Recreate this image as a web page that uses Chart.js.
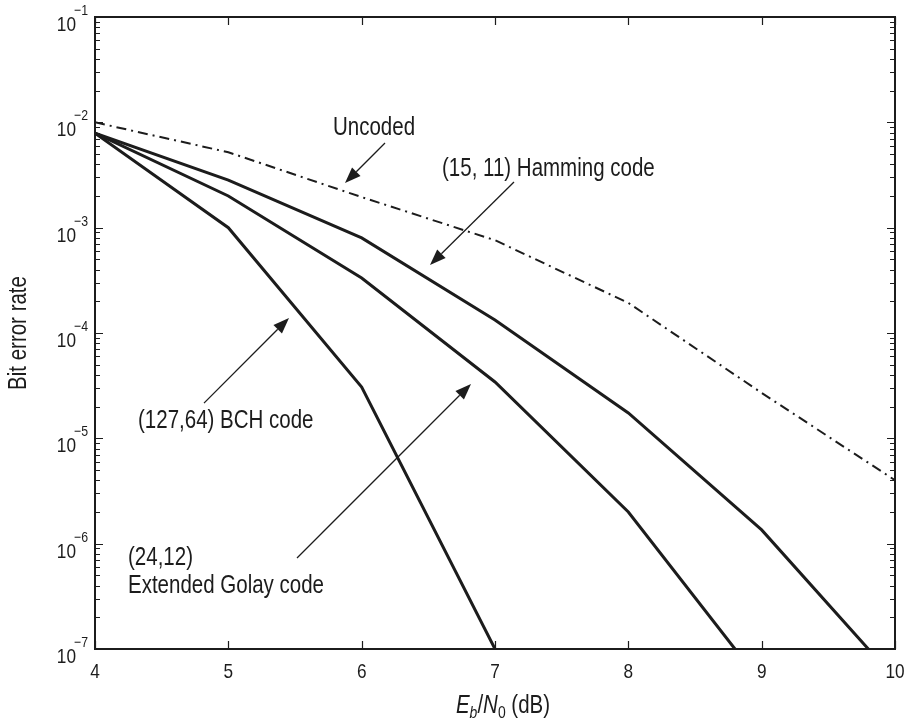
<!DOCTYPE html>
<html>
<head>
<meta charset="utf-8">
<script src="https://cdn.jsdelivr.net/npm/chart.js@4/dist/chart.umd.min.js"></script>
<style>
  body { margin: 0; background: #fff; }
  #wrap { width: 913px; height: 720px; }
</style>
</head>
<body>
<div id="wrap"><canvas id="berChart"></canvas></div>
<script>
// Eb/N0 (dB) values and bit error rates
const uncodedX = [4, 5, 6, 7, 8, 9, 10];
const uncoded = [1.0e-2, 5.2e-3, 1.95e-3, 7.6e-4, 1.93e-4, 2.7e-5, 4.0e-6];

const hammingX = [4, 5, 6, 7, 8, 9, 9.8];
const hamming = [7.9e-3, 2.83e-3, 8.0e-4, 1.33e-4, 1.74e-5, 1.35e-6, 1e-7];

const golayX = [4, 5, 6, 7, 8, 8.8];
const golay = [7.9e-3, 2.0e-3, 3.33e-4, 3.43e-5, 2.0e-6, 1e-7];

const bchX = [4, 5, 6, 7];
const bch = [7.9e-3, 1.0e-3, 3.07e-5, 1e-7];

const xTicks = [4, 5, 6, 7, 8, 9, 10];
const yExponents = [-1, -2, -3, -4, -5, -6, -7];

// annotation labels: anchor (left, baseline) in data units
const labels = [
    { text: 'Uncoded', x: 5.785, y: 7.59e-3 },
    { text: '(15, 11) Hamming code', x: 6.6025, y: 3.09e-3 },
    { text: '(127,64) BCH code', x: 4.3225, y: 1.25e-5 },
    { text: '(24,12)', x: 4.2475, y: 6.27e-7 },
    { text: 'Extended Golay code', x: 4.2475, y: 3.40e-7 },
];

// arrows: tail -> tip, data units
const arrows = [
    { x0: 6.175, y0: 6.37e-3, x1: 5.875, y1: 2.65e-3 },
    { x0: 7.1425, y0: 2.71e-3, x1: 6.5125, y1: 4.43e-4 },
    { x0: 4.8175, y0: 2.16e-5, x1: 5.455, y1: 1.39e-4 },
    { x0: 5.515, y0: 7.31e-7, x1: 6.82, y1: 3.28e-5 },
];

const FONT = "'Liberation Sans', Arial, sans-serif";
const NARROW = 0.82;   // squeeze to look like a condensed face
const INK = '#1c1c1c';

function toPoints(xs, ys) {
    return xs.map((x, i) => ({ x: x, y: ys[i] }));
}

// draw horizontally condensed text; returns drawn width
function narrowText(ctx, text, x, y, font, align) {
    ctx.font = font;
    const w = ctx.measureText(text).width * NARROW;
    let left = x;
    if (align === 'center') left = x - w / 2;
    if (align === 'right') left = x - w;
    ctx.save();
    ctx.translate(left, y);
    ctx.scale(NARROW, 1);
    ctx.textAlign = 'left';
    ctx.textBaseline = 'alphabetic';
    ctx.fillText(text, 0, 0);
    ctx.restore();
    return w;
}

const decorations = {
    id: 'decorations',
    afterDraw(chart) {
        const ctx = chart.ctx;
        const xs = chart.scales.x;
        const ys = chart.scales.y;
        const a = chart.chartArea;
        ctx.save();
        ctx.strokeStyle = INK;
        ctx.fillStyle = INK;

        // frame
        ctx.lineWidth = 2;
        ctx.strokeRect(a.left, a.top, a.right - a.left, a.bottom - a.top);

        // x ticks (inward, bottom and top)
        ctx.lineWidth = 1.2;
        ctx.beginPath();
        xTicks.forEach(v => {
            const px = Math.round(xs.getPixelForValue(v)) + 0.5;
            ctx.moveTo(px, a.bottom); ctx.lineTo(px, a.bottom - 8);
            ctx.moveTo(px, a.top); ctx.lineTo(px, a.top + 8);
        });
        // y ticks, major and minor, both sides
        yExponents.forEach(e => {
            for (let m = 1; m <= 9; m++) {
                const v = m * Math.pow(10, e);
                if (v > 0.1 + 1e-12) continue;
                const py = Math.round(ys.getPixelForValue(v)) + 0.5;
                const len = m === 1 ? 8 : 5;
                ctx.moveTo(a.left, py); ctx.lineTo(a.left + len, py);
                ctx.moveTo(a.right, py); ctx.lineTo(a.right - len, py);
            }
        });
        ctx.stroke();

        // x tick labels
        xTicks.forEach(v => {
            narrowText(ctx, String(v), xs.getPixelForValue(v), a.bottom + 29, '21px ' + FONT, 'center');
        });

        // y tick labels 10^e
        yExponents.forEach(e => {
            const py = ys.getPixelForValue(Math.pow(10, e));
            narrowText(ctx, '10', a.left - 19, py + 14, '21px ' + FONT, 'right');
            narrowText(ctx, '\u2212' + Math.abs(e), a.left - 21, py - 2, '15px ' + FONT, 'left');
        });

        // y axis title
        ctx.save();
        ctx.translate(26, (a.top + a.bottom) / 2);
        ctx.rotate(-Math.PI / 2);
        narrowText(ctx, 'Bit error rate', 0, 0, '25px ' + FONT, 'center');
        ctx.restore();

        // x axis title
        const parts = [
            { t: 'E', f: 'italic 25px ', dy: 0 },
            { t: 'b', f: 'italic 17px ', dy: 5 },
            { t: '/', f: '25px ', dy: 0 },
            { t: 'N', f: 'italic 25px ', dy: 0 },
            { t: '0', f: '17px ', dy: 5 },
            { t: ' (dB)', f: '25px ', dy: 0 },
        ];
        let total = 0;
        parts.forEach(p => { ctx.font = p.f + FONT; p.w = ctx.measureText(p.t).width * NARROW; total += p.w; });
        let cx = (a.left + a.right) / 2 + 8 - total / 2;
        parts.forEach(p => {
            narrowText(ctx, p.t, cx, a.bottom + 64 + p.dy, p.f + FONT, 'left');
            cx += p.w;
        });

        // annotation labels
        labels.forEach(l => {
            narrowText(ctx, l.text, xs.getPixelForValue(l.x), ys.getPixelForValue(l.y), '25px ' + FONT, 'left');
        });

        // arrows
        ctx.lineWidth = 1.3;
        arrows.forEach(ar => {
            const x0 = xs.getPixelForValue(ar.x0), y0 = ys.getPixelForValue(ar.y0);
            const x1 = xs.getPixelForValue(ar.x1), y1 = ys.getPixelForValue(ar.y1);
            const ang = Math.atan2(y1 - y0, x1 - x0);
            const hl = 16, hw = 6;
            const bx = x1 - hl * Math.cos(ang), by = y1 - hl * Math.sin(ang);
            ctx.beginPath();
            ctx.moveTo(x0, y0); ctx.lineTo(bx, by);
            ctx.stroke();
            ctx.beginPath();
            ctx.moveTo(x1, y1);
            ctx.lineTo(bx + hw * Math.sin(ang), by - hw * Math.cos(ang));
            ctx.lineTo(bx - hw * Math.sin(ang), by + hw * Math.cos(ang));
            ctx.closePath();
            ctx.fill();
        });
        ctx.restore();
    }
};

const ctx = document.getElementById('berChart').getContext('2d');
const chart = new Chart(ctx, {
    type: 'line',
    data: {
        datasets: [
            {
                label: 'Uncoded',
                data: toPoints(uncodedX, uncoded),
                borderColor: INK,
                borderWidth: 2,
                borderDash: [10, 5, 2, 5],
            },
            {
                label: '(15, 11) Hamming code',
                data: toPoints(hammingX, hamming),
                borderColor: INK,
                borderWidth: 3,
            },
            {
                label: '(24,12) Extended Golay code',
                data: toPoints(golayX, golay),
                borderColor: INK,
                borderWidth: 3,
            },
            {
                label: '(127,64) BCH code',
                data: toPoints(bchX, bch),
                borderColor: INK,
                borderWidth: 3,
            },
        ]
    },
    options: {
        responsive: true,
        maintainAspectRatio: false,
        animation: false,
        layout: { padding: { top: 17, right: 18, left: 0, bottom: 0 } },
        elements: {
            point: { radius: 0 },
            line: { tension: 0, fill: false, borderJoinStyle: 'miter' },
        },
        scales: {
            x: {
                type: 'linear',
                min: 4,
                max: 10,
                grid: { display: false },
                border: { display: false },
                ticks: { display: false },
                afterFit: scale => { scale.height = 71; },
            },
            y: {
                type: 'logarithmic',
                min: 1e-7,
                max: 1e-1,
                grid: { display: false },
                border: { display: false },
                ticks: { display: false },
                afterFit: scale => { scale.width = 95; },
            },
        },
        plugins: {
            legend: { display: false },
            tooltip: { enabled: false },
        },
    },
    plugins: [decorations],
});
</script>
</body>
</html>
